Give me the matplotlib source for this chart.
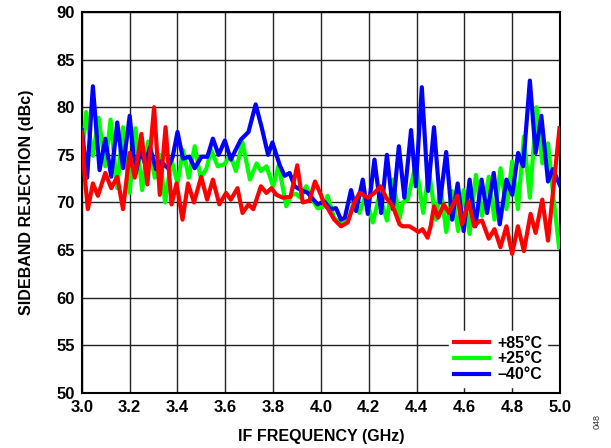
import matplotlib
matplotlib.use("Agg")
import matplotlib.pyplot as plt
from matplotlib.lines import Line2D

# --- DATA ---
freq_blue = [3.0, 3.022, 3.046, 3.074, 3.098, 3.123, 3.148, 3.172, 3.2, 3.224,
             3.245, 3.265, 3.285, 3.31, 3.33, 3.36, 3.38, 3.4, 3.423, 3.45,
             3.472, 3.5, 3.525, 3.548, 3.572, 3.598, 3.623, 3.645, 3.665, 3.697,
             3.727, 3.752, 3.779, 3.797, 3.828, 3.848, 3.869, 3.89, 3.91, 3.945,
             3.986, 4.014, 4.04, 4.063, 4.084, 4.1, 4.126, 4.147, 4.175, 4.196,
             4.224, 4.252, 4.276, 4.301, 4.326, 4.349, 4.377, 4.397, 4.422, 4.448,
             4.473, 4.498, 4.524, 4.549, 4.572, 4.597, 4.622, 4.646, 4.672, 4.695,
             4.723, 4.748, 4.776, 4.8, 4.825, 4.846, 4.874, 4.898, 4.922, 4.95,
             4.97, 5.0]
sbr_m40 = [77.6, 72.6, 82.2, 73.4, 76.7, 72.7, 78.4, 73.6, 79.1, 72.9,
           75.5, 74.0, 75.8, 73.5, 74.3, 73.6, 74.8, 77.4, 74.6, 74.8,
           73.6, 74.8, 74.8, 76.7, 75.0, 76.5, 74.5, 75.6, 76.6, 77.4,
           80.3, 77.9, 75.0, 76.3, 73.9, 72.8, 73.1, 71.7, 71.4, 71.0,
           69.8, 70.1, 69.3, 69.4, 68.2, 68.4, 71.3, 69.1, 72.4, 68.8,
           74.5, 68.9, 75.0, 69.3, 75.9, 70.5, 77.6, 71.7, 82.1, 71.2,
           77.9, 70.0, 75.3, 68.2, 72.0, 67.0, 72.4, 67.5, 72.4, 68.9,
           73.1, 67.7, 72.4, 70.8, 75.2, 73.8, 82.8, 75.2, 79.1, 72.2,
           73.5, 71.8]

freq_green = [3.0, 3.018, 3.046, 3.07, 3.098, 3.12, 3.148, 3.172, 3.2, 3.224,
              3.252, 3.277, 3.305, 3.326, 3.348, 3.375, 3.4, 3.423, 3.447, 3.472,
              3.497, 3.52, 3.541, 3.568, 3.596, 3.621, 3.644, 3.672, 3.703, 3.731,
              3.749, 3.772, 3.8, 3.823, 3.855, 3.876, 3.897, 3.914, 3.938, 3.959,
              3.986, 4.007, 4.028, 4.056, 4.091, 4.119, 4.14, 4.161, 4.186, 4.217,
              4.245, 4.276, 4.301, 4.329, 4.342, 4.363, 4.397, 4.428, 4.452, 4.48,
              4.501, 4.524, 4.549, 4.574, 4.597, 4.622, 4.648, 4.674, 4.702, 4.726,
              4.751, 4.776, 4.8, 4.824, 4.849, 4.874, 4.902, 4.926, 4.95, 4.972,
              4.996]
sbr_p25 = [74.6, 79.5, 74.9, 78.9, 73.8, 78.7, 71.5, 77.9, 71.0, 77.8,
           71.3, 76.4, 72.6, 75.0, 70.0, 74.5, 72.0, 75.5, 72.6, 75.9,
           72.6, 73.5, 75.5, 73.8, 74.0, 75.0, 73.3, 76.3, 72.4, 74.1,
           73.3, 73.8, 71.7, 73.9, 69.6, 70.8, 70.9, 70.5, 71.7, 70.5,
           69.4, 69.5, 70.7, 68.3, 67.9, 68.5, 70.3, 68.9, 70.7, 67.9,
           70.8, 68.1, 72.4, 68.3, 70.0, 70.3, 74.1, 68.9, 73.4, 68.2,
           71.5, 66.9, 71.2, 67.0, 71.3, 66.7, 72.9, 68.6, 72.7, 68.2,
           73.6, 69.3, 74.3, 69.3, 76.9, 70.5, 80.0, 74.1, 76.2, 70.7,
           65.3]

freq_red = [3.0, 3.012, 3.025, 3.046, 3.067, 3.098, 3.123, 3.148, 3.172, 3.2,
            3.221, 3.249, 3.274, 3.302, 3.326, 3.35, 3.375, 3.396, 3.421, 3.444,
            3.469, 3.499, 3.524, 3.548, 3.575, 3.603, 3.623, 3.651, 3.672, 3.697,
            3.717, 3.749, 3.772, 3.793, 3.814, 3.841, 3.873, 3.901, 3.924, 3.952,
            3.975, 4.0, 4.014, 4.028, 4.056, 4.084, 4.112, 4.14, 4.161, 4.196,
            4.224, 4.249, 4.273, 4.301, 4.329, 4.342, 4.37, 4.39, 4.408, 4.425,
            4.446, 4.459, 4.473, 4.49, 4.514, 4.535, 4.549, 4.57, 4.59, 4.618,
            4.641, 4.66, 4.674, 4.702, 4.726, 4.751, 4.776, 4.8, 4.824, 4.849,
            4.877, 4.898, 4.926, 4.95, 4.998]
sbr_p85 = [77.4, 72.7, 69.3, 72.0, 70.7, 73.1, 71.5, 72.7, 69.3, 75.2,
           72.6, 77.2, 71.9, 80.0, 70.8, 77.9, 69.8, 72.0, 68.2, 72.0,
           70.0, 72.7, 70.3, 72.4, 69.8, 71.0, 70.3, 71.5, 68.9, 69.8,
           69.3, 71.7, 71.0, 71.5, 70.8, 70.5, 70.6, 73.9, 70.0, 70.2,
           72.2, 70.8, 69.8, 69.4, 68.2, 67.5, 67.9, 70.0, 71.0, 70.5,
           71.0, 71.7, 70.5, 69.6, 67.7, 67.5, 67.5, 67.2, 66.9, 67.2,
           66.3, 67.5, 69.6, 68.4, 69.8, 68.9, 69.6, 70.7, 67.7, 70.1,
           67.5, 68.0, 68.1, 66.2, 67.2, 65.3, 67.5, 64.6, 67.5, 64.9,
           68.8, 66.8, 70.3, 66.0, 77.8]

x_ticks = [3.0, 3.2, 3.4, 3.6, 3.8, 4.0, 4.2, 4.4, 4.6, 4.8, 5.0]
y_ticks = [50, 55, 60, 65, 70, 75, 80, 85, 90]
labels = ["+85°C", "+25°C", "–40°C"]
colors = ["#ff0000", "#00ff00", "#0000ff"]

plt.rcParams['font.family'] = ['Liberation Sans', 'DejaVu Sans']

fig = plt.figure(figsize=(6.11, 4.48), dpi=100)
ax = fig.add_axes([0.134, 0.1228, 0.7825, 0.8505])

lw = 3.0
ax.plot(freq_green, sbr_p25, color=colors[1], lw=lw, solid_joinstyle='round', zorder=3)
ax.plot(freq_blue, sbr_m40, color=colors[2], lw=lw, solid_joinstyle='round', zorder=4)
ax.plot(freq_red, sbr_p85, color=colors[0], lw=lw, solid_joinstyle='round', zorder=5)

ax.set_xlim(3.0, 5.0)
ax.set_ylim(50, 90)
ax.set_xticks(x_ticks)
ax.set_yticks(y_ticks)
ax.set_xticklabels([f"{v:.1f}" for v in x_ticks], fontsize=12, fontweight='bold')
ax.set_yticklabels([str(v) for v in y_ticks], fontsize=12, fontweight='bold')
ax.tick_params(length=0, pad=5)
ax.grid(True, color='#222222', linewidth=1.0)
ax.set_axisbelow(True)
for sp in ax.spines.values():
    sp.set_linewidth(1.5)
    sp.set_color('black')

ax.set_xlabel("IF FREQUENCY (GHz)", fontsize=11.5, fontweight='bold', labelpad=10)
ax.set_ylabel("SIDEBAND REJECTION (dBc)", fontsize=11.5, fontweight='bold', labelpad=16)

handles = [Line2D([0], [0], color=c, lw=3.0) for c in colors]
leg = ax.legend(handles, labels, loc='lower right', bbox_to_anchor=(0.99, -0.005),
                frameon=True, fancybox=False, framealpha=1.0, edgecolor='white',
                prop={'weight': 'bold', 'size': 11.5}, handlelength=2.2,
                handletextpad=0.5, labelspacing=0.05, borderpad=0.3)
leg.set_zorder(10)

fig.text(0.977, 0.06, "048", rotation=90, fontsize=6.5, color='#333333',
         ha='center', va='center')

fig.savefig("out.png", dpi=100)
